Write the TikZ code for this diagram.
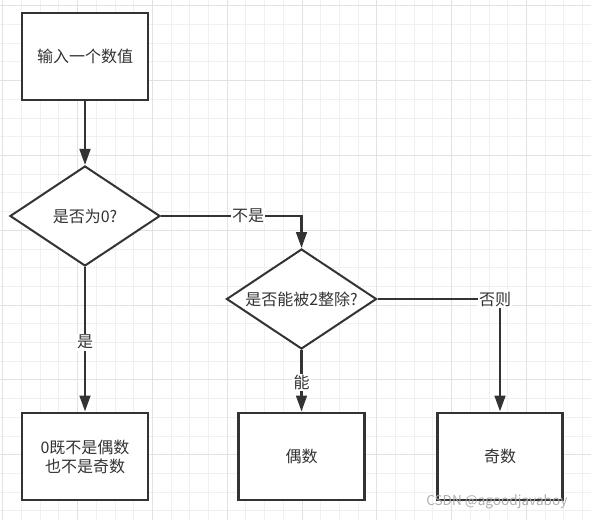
\documentclass[tikz,border=0pt]{standalone}
\usepackage{fontspec}
\newfontfamily\cjk{Noto Sans CJK SC}
\usepackage{tikz}
\usetikzlibrary{arrows.meta}
\usetikzlibrary{shapes.geometric}
\definecolor{ink}{HTML}{333333}
\definecolor{gridminor}{HTML}{F0F0F0}
\definecolor{gridmajor}{HTML}{E2E2E2}

\begin{document}
\begin{tikzpicture}[x=.75pt, y=-.75pt,
    box/.style={draw=ink, line width=2.2pt, fill=white, minimum width=94.5pt,
                minimum height=65.25pt, inner sep=0pt, align=center, text=ink,
                font=\cjk\fontsize{12}{14.25}\selectfont},
    choice/.style={diamond, draw=ink, line width=1.5pt, fill=white, shape aspect=1.5,
                   minimum width=112.5pt, minimum height=75pt, inner sep=0pt, text=ink,
                   font=\cjk\fontsize{12}{14.25}\selectfont},
    flow/.style={draw=ink, line width=2pt, -{Triangle[length=12pt, width=8pt]}},
    tag/.style={fill=white, inner sep=1pt, text=ink, font=\cjk\fontsize{12}{14.25}\selectfont}]
  \useasboundingbox (0,0) rectangle (591,520);
  \fill[white] (0,0) rectangle (591,520);

  % grid
  \foreach \i in {0,...,31}
    \draw[gridminor, line width=.75pt] ({2.8+18.7*\i},0) -- ({2.8+18.7*\i},520);
  \foreach \j in {0,...,27}
    \draw[gridminor, line width=.75pt] (0,{5.9+18.7*\j}) -- (591,{5.9+18.7*\j});
  \foreach \i in {0,4,...,28}
    \draw[gridmajor, line width=.75pt] ({2.8+18.7*\i},0) -- ({2.8+18.7*\i},520);
  \foreach \j in {0,4,...,24}
    \draw[gridmajor, line width=.75pt] (0,{5.9+18.7*\j}) -- (591,{5.9+18.7*\j});

  \node[box] (input) at (85,56.5) {输入一个数值};
  \node[choice] (iszero) at (85,216) {是否为0?};
  \node[choice] (iseven) at (301.5,299) {是否能被2整除?};
  \node[box] (zero) at (85,456.5) {0既不是偶数\\也不是奇数};
  \node[box] (even) at (301.5,456.5) {偶数};
  \node[box, minimum width=93.75pt] (odd) at (500,456.5) {奇数};

  \draw[flow] (input) -- (iszero);
  \draw[flow] (iszero) -- node[tag, pos=.52] {是} (zero);
  \draw[flow] (iszero.east) -| node[tag, pos=.31] {不是} (iseven.north);
  \draw[flow] (iseven.east) -| node[tag, pos=.48] {否则} (odd.north);
  \draw[flow] (iseven) -- node[tag, pos=.53] {能} (even);

  \node[anchor=west, inner sep=0pt, text=gray!70, text opacity=.9,
        font=\cjk\fontsize{10.2}{12}\selectfont]
    (mark) at (426,501.5) {CSDN @agoodjavaboy};
\end{tikzpicture}
\end{document}
